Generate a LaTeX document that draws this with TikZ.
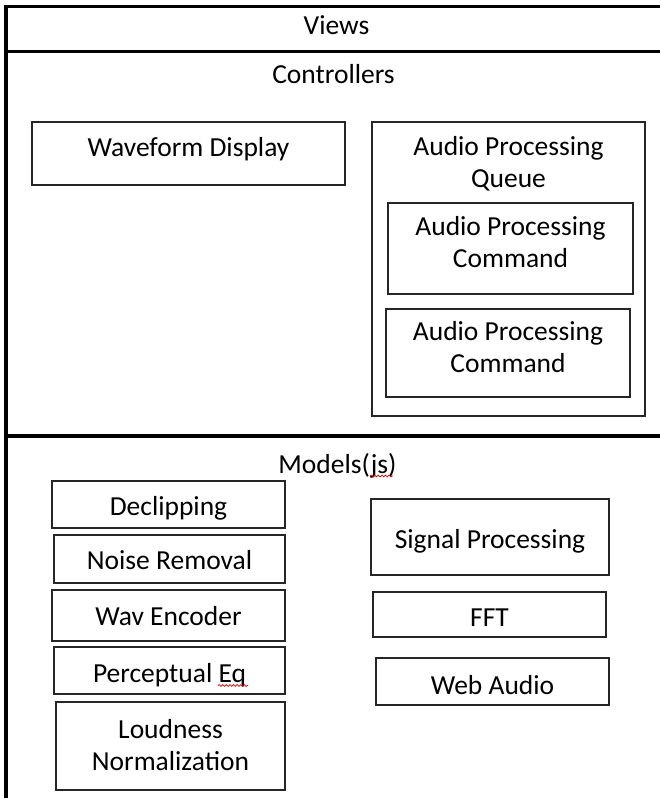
\documentclass[tikz,border=0pt]{standalone}
\usepackage{fontspec}
\setmainfont{Carlito}
\usetikzlibrary{fit,decorations.pathmorphing}
\begin{document}
\begin{tikzpicture}[x=1pt,y=-1pt,
  frame/.style={line width=3.2pt, draw=black, line join=miter},
  box/.style={draw=black!85, line width=1.4pt, rectangle, inner sep=0pt},
  lbl/.style={font=\fontsize{27.5}{31.7}\selectfont, inner sep=0pt, align=center,
              execute at begin node=\strut, execute at end node=\strut},
  squiggle/.style={draw=red!85!black, line width=0.7pt, decorate,
                   decoration={snake, amplitude=0.9pt, segment length=3.6pt}}]
\useasboundingbox (0,0) rectangle (660,798);

% outer frame
\coordinate (ftr) at (660,6.5);
\coordinate (ftl) at (6,6.5);
\coordinate (fbl) at (6,798);
\coordinate (s1l) at (6,51.5);
\coordinate (s1r) at (660,51.5);
\coordinate (s2l) at (6,436);
\coordinate (s2r) at (660,436);
\draw[frame] (ftr) -- (ftl) -- (fbl);
\draw[frame] (s1l) -- (s1r);
\draw[frame] (s2l) -- (s2r);

% section titles
\node[lbl] (views) at (336.5,28.6) {Views};
\node[lbl] (ctrl) at (333.5,77.6) {Controllers};
\node[lbl] (models) at (337.5,467.6) {Models(js)};

% controllers
\node[box, fit={(32,122) (345,185)}] (wave) {};
\node[lbl] (wavet) at (188.5,150) {Waveform Display};

\node[box, fit={(372,122) (645,416)}] (queue) {};
\node[lbl] (queuet) at (508.5,166.5) {Audio Processing\\Queue};

\node[box, fit={(388,203) (633,294)}] (cmda) {};
\node[lbl] (cmdat) at (510.5,246.5) {Audio Processing\\Command};

\node[box, fit={(386,309) (630,397)}] (cmdb) {};
\node[lbl] (cmdbt) at (508,351.5) {Audio Processing\\Command};

% models, left column
\node[box, fit={(52,481) (285,528)}] (decl) {};
\node[lbl] (declt) at (168.5,509) {Declipping};

\node[box, fit={(54,535) (285,583)}] (noise) {};
\node[lbl] (noiset) at (169.5,563.6) {Noise Removal};

\node[box, fit={(52,590) (285,641)}] (wav) {};
\node[lbl] (wavt2) at (168.5,619.6) {Wav Encoder};

\node[box, fit={(54,647) (285,694)}] (perc) {};
\node[lbl] (perct) at (169.5,676.6) {Perceptual Eq};

\node[box, fit={(56,702) (285,790)}] (loud) {};
\node[lbl] (loudt) at (170.5,749.5) {Loudness\\Normalization};

% models, right column
\node[box, fit={(371,499) (609,575)}] (sig) {};
\node[lbl] (sigt) at (490,542.3) {Signal Processing};

\node[box, fit={(373,592) (606,637)}] (fft) {};
\node[lbl] (fftt) at (489.5,620.6) {FFT};

\node[box, fit={(376,658) (609,705)}] (web) {};
\node[lbl] (webt) at (492.5,688.3) {Web Audio};

% spell-check squiggles
\coordinate (sqa1) at (370,476);
\coordinate (sqa2) at (393,476);
\coordinate (sqb1) at (218,685.5);
\coordinate (sqb2) at (248,685.5);
\draw[squiggle] (sqa1) -- (sqa2);
\draw[squiggle] (sqb1) -- (sqb2);
\end{tikzpicture}
\end{document}
